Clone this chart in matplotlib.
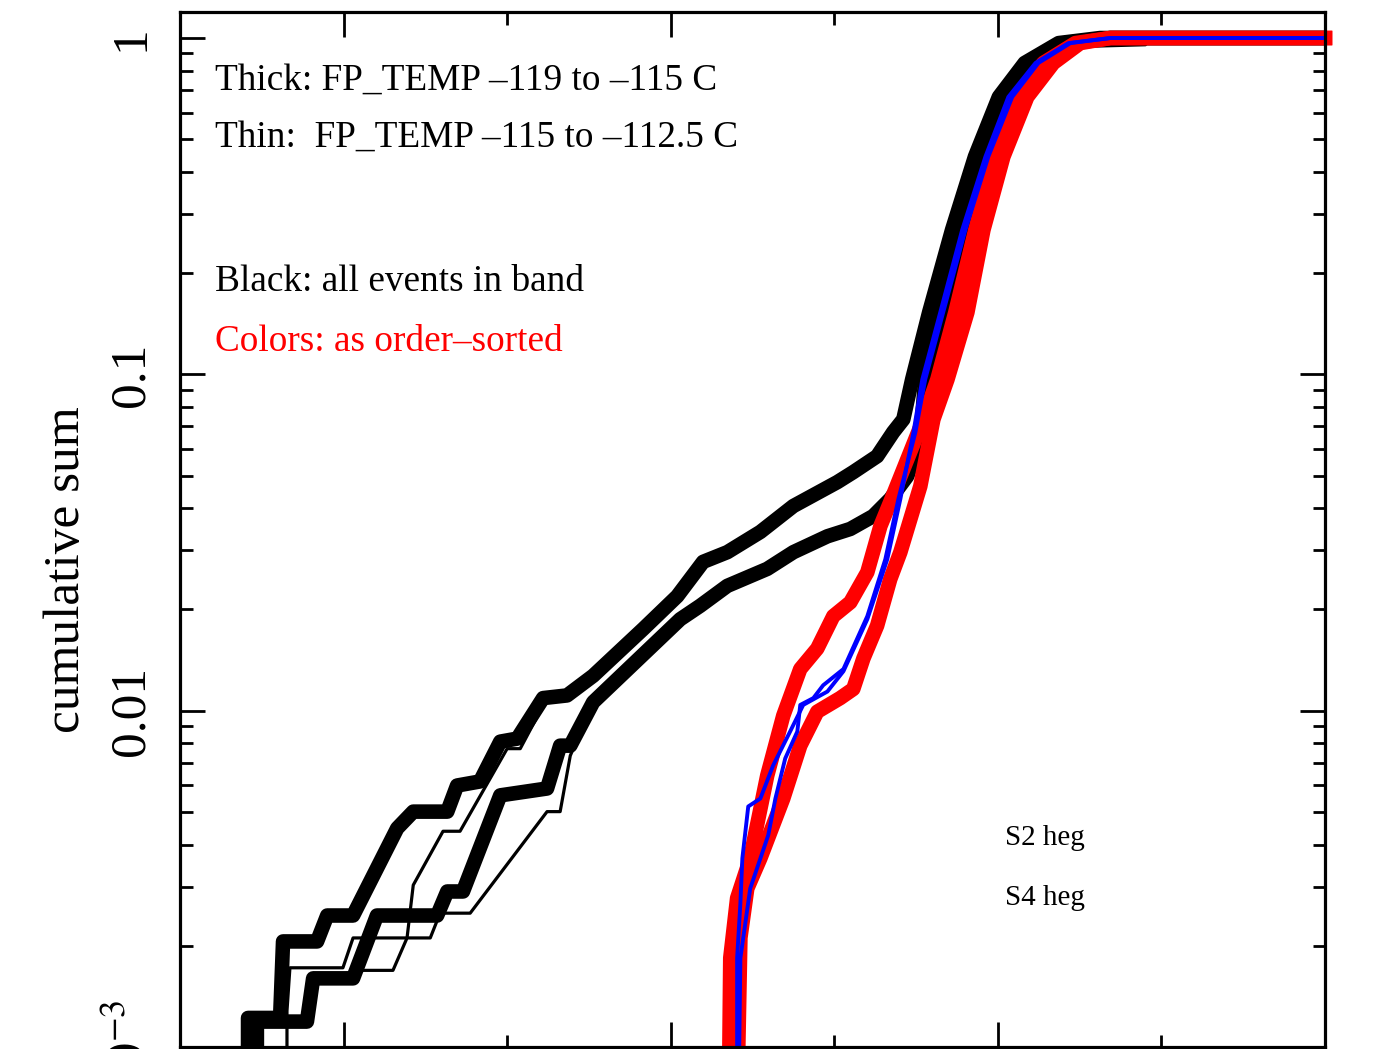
import matplotlib
matplotlib.use("Agg")
import matplotlib.pyplot as plt
from matplotlib.ticker import FixedLocator, LogLocator, MultipleLocator, NullFormatter

plt.rcParams["font.family"] = ["Liberation Serif", "DejaVu Serif"]
plt.rcParams["mathtext.fontset"] = "stix"

# ---- data (x in plot units, y = cumulative sum) ----
# black, thick: FP_TEMP -119 to -115 C
thick_a_x = [0.708, 0.708, 0.806, 0.815, 0.919, 0.950, 1.029, 1.164, 1.213, 1.317,
             1.347, 1.417, 1.479, 1.531, 1.610, 1.683, 1.763, 1.916, 2.020, 2.099,
             2.173, 2.274, 2.375, 2.509, 2.558, 2.631, 2.680, 2.711, 2.738, 2.790,
             2.860, 2.930, 3.003, 3.082, 3.186, 3.313, 4.0]
thick_a_y = [0.00093, 0.00122, 0.00122, 0.00206, 0.00206, 0.00246, 0.00246, 0.00447, 0.00501, 0.00501,
             0.00599, 0.00616, 0.00809, 0.00826, 0.0109, 0.0111, 0.0127, 0.0175, 0.0219, 0.0277,
             0.0296, 0.0340, 0.0406, 0.0478, 0.0512, 0.0571, 0.0673, 0.0735, 0.0966, 0.153,
             0.269, 0.444, 0.668, 0.843, 0.966, 1.0, 1.0]

thick_b_x = [0.735, 0.735, 0.888, 0.907, 1.029, 1.102, 1.286, 1.317, 1.365, 1.479,
             1.622, 1.662, 1.693, 1.763, 2.029, 2.090, 2.173, 2.295, 2.375, 2.479,
             2.549, 2.619, 2.671, 2.723, 2.763, 2.778, 2.833, 2.894, 2.962, 3.032,
             3.109, 3.206, 3.344, 4.0]
thick_b_y = [0.00093, 0.00119, 0.00119, 0.00160, 0.00160, 0.00246, 0.00246, 0.00290, 0.00290, 0.00560,
             0.00587, 0.00787, 0.00787, 0.0106, 0.0187, 0.0205, 0.0235, 0.0264, 0.0296, 0.0330,
             0.0347, 0.0379, 0.0426, 0.0498, 0.0641, 0.0966, 0.153, 0.269, 0.444, 0.668,
             0.843, 0.966, 1.0, 1.0]

# black, thin: FP_TEMP -115 to -112.5 C
thin_c_x = [0.827, 0.827, 0.836, 0.998, 1.029, 1.194, 1.213, 1.304, 1.356, 1.500,
            1.540, 1.622, 1.763, 1.916, 2.020, 2.099, 2.173, 2.274, 2.375, 2.509,
            2.631, 2.680, 2.717, 2.739, 2.791, 2.861, 2.931, 3.005, 3.084, 3.191,
            3.451, 3.466, 4.0]
thin_c_y = [0.00093, 0.00128, 0.00172, 0.00172, 0.00211, 0.00211, 0.00303, 0.00438, 0.00438, 0.00771,
            0.00771, 0.0109, 0.0124, 0.0172, 0.0215, 0.0269, 0.0288, 0.0330, 0.0397, 0.0465,
            0.0552, 0.0655, 0.0735, 0.0966, 0.153, 0.269, 0.444, 0.668, 0.843, 0.940,
            0.955, 1.0, 1.0]

thin_d_x = [0.751, 0.751, 0.898, 0.922, 1.060, 1.151, 1.194, 1.265, 1.295, 1.387,
            1.622, 1.662, 1.693, 1.754, 2.029, 2.090, 2.173, 2.295, 2.375, 2.479,
            2.549, 2.619, 2.671, 2.723, 2.763, 2.784, 2.839, 2.901, 2.971, 3.038,
            3.115, 3.216, 3.344, 4.0]
thin_d_y = [0.00093, 0.00119, 0.00119, 0.00160, 0.00169, 0.00169, 0.00211, 0.00211, 0.00250, 0.00250,
            0.00501, 0.00501, 0.00735, 0.0101, 0.0181, 0.0201, 0.0230, 0.0258, 0.0290, 0.0324,
            0.0340, 0.0371, 0.0417, 0.0488, 0.0628, 0.0966, 0.153, 0.269, 0.444, 0.668,
            0.843, 0.966, 1.0, 1.0]

# order-sorted, thick (red)
red_l_x = [2.179, 2.182, 2.203, 2.243, 2.295, 2.344, 2.396, 2.448, 2.497, 2.549,
           2.601, 2.641, 2.671, 2.732, 2.772, 2.815, 2.870, 2.931, 2.992, 3.060,
           3.139, 3.237, 3.344, 4.0]
red_l_y = [0.00093, 0.00184, 0.00277, 0.00364, 0.00641, 0.00966, 0.0133, 0.0153, 0.0191, 0.0210,
           0.0258, 0.0354, 0.0417, 0.0587, 0.0735, 0.0966, 0.153, 0.269, 0.444, 0.668,
           0.843, 0.966, 1.0, 1.0]

red_r_x = [2.206, 2.213, 2.234, 2.274, 2.344, 2.396, 2.448, 2.518, 2.558, 2.589,
           2.631, 2.671, 2.702, 2.763, 2.803, 2.846, 2.907, 2.956, 3.017, 3.090,
           3.170, 3.252, 3.344, 4.0]
red_r_y = [0.00093, 0.00211, 0.00296, 0.00364, 0.00548, 0.00787, 0.00993, 0.0109, 0.0116, 0.0143,
           0.0179, 0.0246, 0.0296, 0.0465, 0.0735, 0.0966, 0.153, 0.269, 0.444, 0.668,
           0.843, 0.966, 1.0, 1.0]

# order-sorted, thin (blue)
blue_1_x = [2.203, 2.203, 2.213, 2.219, 2.237, 2.274, 2.313, 2.365, 2.405, 2.479,
            2.528, 2.601, 2.662, 2.702, 2.742, 2.769, 2.824, 2.891, 2.962, 3.032,
            3.115, 3.216, 3.344, 4.0]
blue_1_y = [0.00093, 0.00184, 0.00268, 0.00364, 0.00519, 0.00548, 0.00687, 0.00867, 0.0104, 0.0114,
            0.0131, 0.0187, 0.0282, 0.0426, 0.0673, 0.0966, 0.153, 0.269, 0.444, 0.668,
            0.843, 0.966, 1.0, 1.0]

blue_2_x = [2.209, 2.213, 2.243, 2.298, 2.320, 2.350, 2.387, 2.396, 2.436, 2.466,
            2.528, 2.601, 2.656, 2.696, 2.748, 2.778, 2.833, 2.901, 2.971, 3.044,
            3.124, 3.222, 3.344, 4.0]
blue_2_y = [0.00093, 0.00184, 0.00296, 0.00426, 0.00548, 0.00721, 0.00867, 0.0104, 0.0109, 0.0119,
            0.0133, 0.0191, 0.0282, 0.0426, 0.0673, 0.0966, 0.153, 0.269, 0.444, 0.668,
            0.843, 0.966, 1.0, 1.0]

y_ticks = [1e-3, 1e-2, 1e-1, 1.0]
y_tick_labels = [r"$10^{-3}$", "0.01", "0.1", "1"]

notes_black = ["Thick: FP_TEMP \u2013119 to \u2013115 C",
               "Thin:  FP_TEMP \u2013115 to \u2013112.5 C",
               "Black: all events in band"]
note_red = "Colors: as order\u2013sorted"
series_names = ["S2 heg", "S4 heg"]

# ---- figure ----
W, H = 1379, 1049
fig = plt.figure(figsize=(W / 100, H / 100), dpi=100)
ax = fig.add_axes([180 / W, 2 / H, 1145 / W, 1035 / H])

LW_THICK = 10.5
LW_RED = 10.5
LW_THIN = 2.3
LW_BLUE = 2.8

ax.plot(thick_a_x, thick_a_y, color="black", lw=LW_THICK)
ax.plot(thick_b_x, thick_b_y, color="black", lw=LW_THICK)
ax.plot(thin_c_x, thin_c_y, color="black", lw=LW_THIN)
ax.plot(thin_d_x, thin_d_y, color="black", lw=LW_THIN)
ax.plot(red_l_x, red_l_y, color="#ff0000", lw=LW_RED, clip_on=False)
ax.plot(red_r_x, red_r_y, color="#ff0000", lw=LW_RED, clip_on=False)
ax.plot(blue_1_x, blue_1_y, color="#0000ff", lw=LW_BLUE)
ax.plot(blue_2_x, blue_2_y, color="#0000ff", lw=LW_BLUE)

ax.set_yscale("log")
ax.set_xlim(0.5, 4.0)
ax.set_ylim(1e-3, 1.195)

ax.xaxis.set_major_locator(MultipleLocator(1.0))
ax.xaxis.set_minor_locator(MultipleLocator(0.5))
ax.yaxis.set_major_locator(FixedLocator(y_ticks))
ax.set_yticklabels(y_tick_labels)
ax.yaxis.set_minor_locator(LogLocator(base=10, subs=range(2, 10)))
ax.yaxis.set_minor_formatter(NullFormatter())

ax.tick_params(which="both", direction="in", top=True, right=True,
               labelbottom=False, width=2.0)
ax.tick_params(which="major", length=18)
ax.tick_params(which="minor", length=9)
ax.tick_params(axis="y", which="major", labelsize=37, pad=18, labelrotation=90)
for lab in ax.get_yticklabels():
    lab.set_va("center")

for sp in ax.spines.values():
    sp.set_linewidth(2.3)

fig.text(67 / W, 1 - 570 / H, "cumulative sum", rotation=90,
         ha="center", va="center", fontsize=37)

for txt, py in zip(notes_black, [80, 137, 282]):
    fig.text(215 / W, 1 - py / H, txt, ha="left", va="center", fontsize=26.8)
fig.text(215 / W, 1 - 342 / H, note_red, ha="left", va="center",
         fontsize=26.8, color="#ff0000")

for txt, py in zip(series_names, [838, 898]):
    fig.text(1005 / W, 1 - py / H, txt, ha="left", va="center", fontsize=21)

fig.savefig("out.png", dpi=100)
